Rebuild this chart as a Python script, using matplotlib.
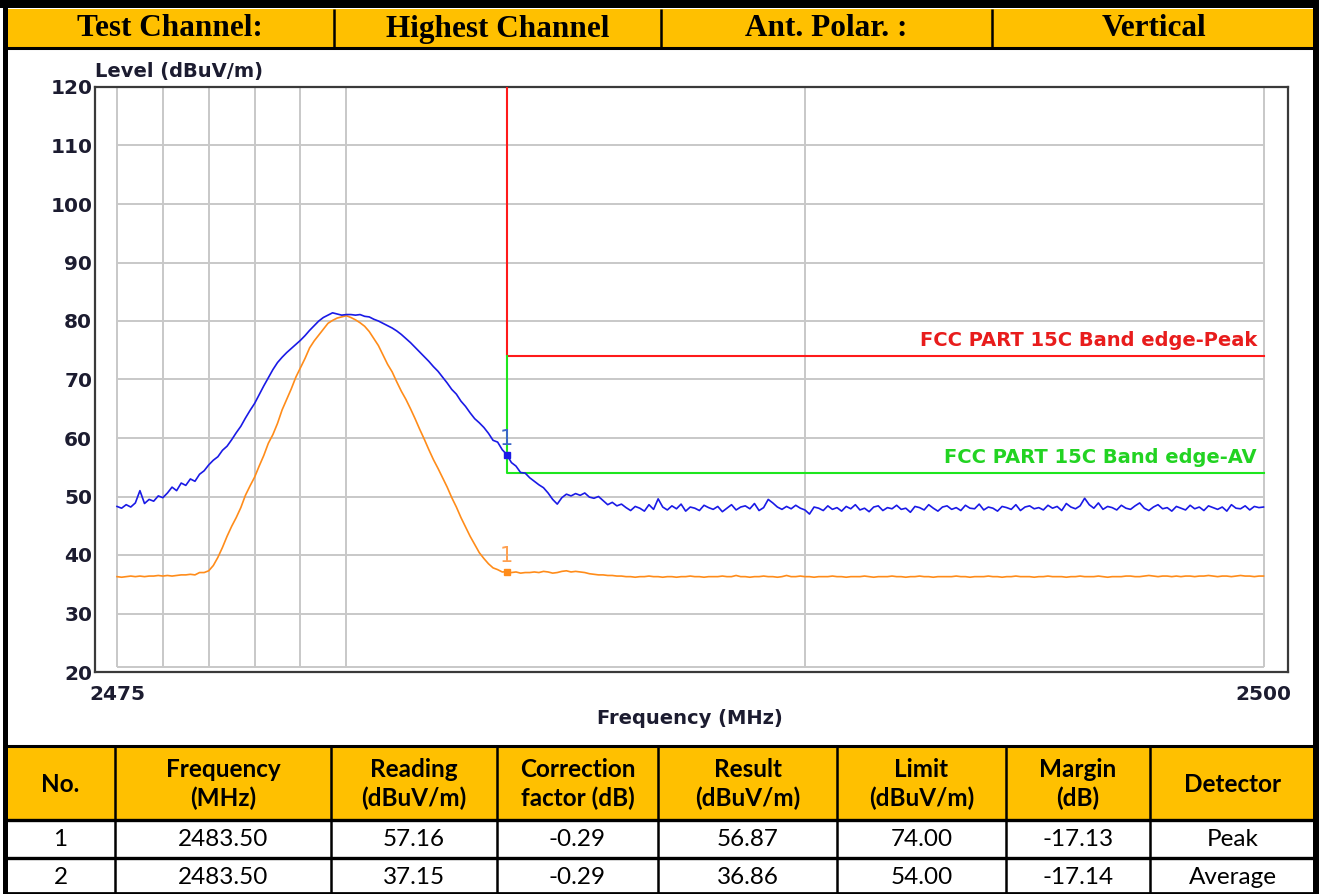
import numpy as np
import matplotlib
matplotlib.use("Agg")
import matplotlib.pyplot as plt
from matplotlib.patches import Rectangle
from matplotlib.lines import Line2D

# ---------------- data ----------------
freq_start, freq_stop, n_points = 2475.0, 2500.0, 251
freq = np.linspace(freq_start, freq_stop, n_points)

peak_level = [
    48.3, 48.0, 48.6, 48.2, 48.9, 51.0, 48.8, 49.5, 49.2, 50.1, 49.8,
    50.6, 51.6, 51.0, 52.3, 51.9, 53.0, 52.6, 53.8, 54.4, 55.4,
    56.2, 56.8, 57.9, 58.6, 59.7, 60.9, 62.0, 63.4, 64.7, 65.9,
    67.4, 68.9, 70.3, 71.7, 72.9, 73.8, 74.6, 75.3, 76.0, 76.7,
    77.5, 78.4, 79.2, 80.0, 80.6, 81.0, 81.4, 81.2, 81.0, 81.1,
    81.1, 81.0, 81.1, 80.8, 80.7, 80.3, 80.0, 79.6, 79.2, 78.8,
    78.3, 77.7, 77.0, 76.3, 75.5, 74.7, 73.9, 73.1, 72.2, 71.4,
    70.4, 69.4, 68.3, 67.5, 66.3, 65.4, 64.3, 63.3, 62.6, 61.8,
    60.8, 59.6, 59.3, 58.0, 57.16, 55.8, 55.2, 54.1, 54.0, 53.2,
    52.6, 52.0, 51.5, 50.6, 49.5, 48.7, 49.8, 50.4, 50.1, 50.5,
    50.2, 50.6, 49.9, 49.7, 50.0, 49.3, 48.6, 49.0, 48.4, 48.7,
    48.1, 47.6, 48.3, 48.0, 47.5, 48.6, 47.8, 49.6, 48.2, 47.7,
    48.4, 47.9, 48.7, 47.5, 48.2, 48.0, 47.6, 48.5, 48.1, 47.8,
    48.3, 47.4, 48.0, 48.6, 47.7, 48.2, 48.4, 47.9, 48.8, 47.6,
    48.1, 49.5, 48.9, 48.2, 47.8, 48.3, 47.9, 48.5, 48.0, 47.7,
    47.0, 48.2, 48.0, 47.6, 48.4, 47.8, 48.1, 47.5, 48.3, 47.9,
    48.6, 47.7, 48.0, 47.4, 48.2, 48.4, 47.6, 48.1, 47.9, 48.5,
    47.8, 48.0, 47.3, 48.3, 48.1, 47.7, 48.6, 48.0, 47.5, 48.2,
    48.4, 47.8, 48.1, 47.6, 48.5, 48.0, 47.9, 48.7, 47.7, 48.2,
    48.0, 47.5, 48.3, 48.1, 47.8, 48.6, 47.6, 48.2, 48.4, 47.9,
    48.1, 47.7, 48.5, 48.0, 48.3, 47.6, 48.8, 48.2, 47.9, 48.4,
    49.7, 48.6, 48.0, 48.9, 47.8, 48.3, 48.1, 47.7, 48.5, 48.0,
    47.8, 48.4, 48.9, 48.0, 47.6, 48.2, 48.6, 47.9, 48.1, 47.5,
    48.3, 48.0, 47.7, 48.5, 47.9, 48.2, 47.6, 48.4, 48.1, 47.8,
    48.2, 47.5, 48.6, 48.0, 47.9, 48.4, 47.7, 48.3, 48.1, 48.2,
]

avg_level = [
    36.3, 36.2, 36.3, 36.4, 36.3, 36.4, 36.3, 36.4, 36.4, 36.5, 36.4,
    36.5, 36.4, 36.5, 36.6, 36.6, 36.7, 36.6, 37.0, 37.0, 37.3,
    38.2, 39.6, 41.3, 43.2, 44.9, 46.4, 48.1, 50.2, 51.8, 53.3,
    55.2, 57.0, 59.1, 60.6, 62.5, 64.8, 66.6, 68.4, 70.4, 72.0,
    73.6, 75.4, 76.6, 77.6, 78.6, 79.6, 80.1, 80.5, 80.7, 80.9,
    80.6, 80.2, 79.7, 79.1, 78.2, 77.0, 75.8, 74.2, 72.6, 71.3,
    69.6, 68.0, 66.6, 65.0, 63.3, 61.5, 59.8, 58.0, 56.3, 54.8,
    53.2, 51.6, 49.8, 48.2, 46.4, 44.8, 43.2, 41.8, 40.4, 39.4,
    38.5, 37.8, 37.5, 37.1, 37.15, 37.0, 37.1, 36.9, 37.0, 37.0,
    37.1, 37.0, 37.2, 37.1, 36.9, 37.0, 37.2, 37.3, 37.1, 37.2,
    37.1, 37.0, 36.8, 36.7, 36.6, 36.6, 36.5, 36.5, 36.4, 36.4,
    36.3, 36.3, 36.2, 36.3, 36.3, 36.4, 36.3, 36.3, 36.2, 36.3,
    36.3, 36.2, 36.3, 36.3, 36.4, 36.3, 36.3, 36.2, 36.3, 36.3,
    36.3, 36.4, 36.3, 36.3, 36.5, 36.3, 36.3, 36.2, 36.3, 36.3,
    36.4, 36.3, 36.3, 36.2, 36.3, 36.5, 36.3, 36.3, 36.4, 36.3,
    36.3, 36.2, 36.3, 36.3, 36.3, 36.4, 36.3, 36.3, 36.2, 36.3,
    36.3, 36.3, 36.4, 36.3, 36.2, 36.3, 36.3, 36.3, 36.4, 36.3,
    36.3, 36.2, 36.3, 36.3, 36.4, 36.3, 36.3, 36.2, 36.3, 36.3,
    36.3, 36.3, 36.4, 36.3, 36.3, 36.2, 36.3, 36.3, 36.3, 36.4,
    36.3, 36.3, 36.2, 36.3, 36.3, 36.4, 36.3, 36.3, 36.3, 36.2,
    36.3, 36.3, 36.4, 36.3, 36.3, 36.3, 36.2, 36.3, 36.3, 36.4,
    36.3, 36.3, 36.3, 36.4, 36.3, 36.2, 36.3, 36.3, 36.3, 36.4,
    36.4, 36.3, 36.3, 36.4, 36.5, 36.4, 36.3, 36.4, 36.4, 36.3,
    36.4, 36.3, 36.4, 36.4, 36.3, 36.4, 36.4, 36.5, 36.4, 36.3,
    36.4, 36.4, 36.3, 36.4, 36.5, 36.4, 36.4, 36.3, 36.4, 36.4,
]

band_edge = 2483.5
limit_peak = 74.0
limit_avg = 54.0
marker_freq = [2483.5, 2483.5]
marker_level = [57.16, 37.15]

grid_x = [2475, 2476, 2477, 2478, 2479, 2480, 2490, 2500]
grid_y = [30, 40, 50, 60, 70, 80, 90, 100, 110]
y_ticks = [20, 30, 40, 50, 60, 70, 80, 90, 100, 110, 120]
x_ticks = [2475, 2500]

header_labels = ["Test Channel:", "Highest Channel", "Ant. Polar. :", "Vertical"]
table_header = ["No.", "Frequency\n(MHz)", "Reading\n(dBuV/m)", "Correction\nfactor (dB)",
                "Result\n(dBuV/m)", "Limit\n(dBuV/m)", "Margin\n(dB)", "Detector"]
row_no = ["1", "2"]
row_freq = ["2483.50", "2483.50"]
row_reading = ["57.16", "37.15"]
row_corr = ["-0.29", "-0.29"]
row_result = ["56.87", "36.86"]
row_limit = ["74.00", "54.00"]
row_margin = ["-17.13", "-17.14"]
row_detector = ["Peak", "Average"]

# ---------------- figure ----------------
W, H = 1319, 894
fig = plt.figure(figsize=(W / 100, H / 100), dpi=100)
fig.patch.set_facecolor("white")


def fx(x):
    return x / W


def fy(y):
    return 1 - y / H


def rect(x0, y0, x1, y1, color, z=0):
    fig.add_artist(Rectangle((fx(x0), fy(y1)), fx(x1) - fx(x0), fy(y0) - fy(y1),
                             transform=fig.transFigure, facecolor=color,
                             edgecolor="none", zorder=z))


def line(x0, y0, x1, y1, lw=2.0, color="black", z=5):
    fig.add_artist(Line2D([fx(x0), fx(x1)], [fy(y0), fy(y1)], transform=fig.transFigure,
                          color=color, lw=lw, zorder=z, solid_capstyle="butt"))


ORANGE = "#FFC000"

# top header row
hcols = [6, 334, 661, 992, 1315]
rect(6, 9, 1315, 47, ORANGE)
for i, lab in enumerate(header_labels):
    fig.text(fx((hcols[i] + hcols[i + 1]) / 2), fy(29), lab, ha="center", va="center",
             fontsize=22.5, fontweight="bold", family="Liberation Serif", color="black")
for x in hcols[1:-1]:
    line(x, 9, x, 47, lw=1.8)
line(6, 48, 1315, 48, lw=2.2)

# bottom table
tcols = [6, 115, 331, 497, 658, 837, 1006, 1150, 1315]
rect(6, 746, 1315, 819, ORANGE)
line(6, 745.5, 1315, 745.5, lw=2.2)
line(6, 819.5, 1315, 819.5, lw=2.4)
line(6, 857.5, 1315, 857.5, lw=2.4)
line(6, 893, 1315, 893, lw=2.0)
for x in tcols[1:-1]:
    line(x, 745, x, 894, lw=1.8)

cols_data = [row_no, row_freq, row_reading, row_corr, row_result, row_limit, row_margin, row_detector]
for i, lab in enumerate(table_header):
    cx = (tcols[i] + tcols[i + 1]) / 2
    fig.text(fx(cx), fy(784), lab, ha="center", va="center", fontsize=17.5,
             fontweight="bold", family="Lato", color="black", linespacing=1.3)
    for r, cy in enumerate([839, 878]):
        fig.text(fx(cx), fy(cy), cols_data[i][r], ha="center", va="center",
                 fontsize=17.5, family="Lato", color="black")

# page border
rect(0, 0, W, 8, "black", z=6)
rect(3, 0, 8, H, "black", z=6)
rect(1313, 0, W, H, "black", z=6)

# ---------------- chart ----------------
ax_l, ax_r, ax_t, ax_b = 95, 1288, 87, 672
px_x0, px_x1 = 117, 1263.5
mhz_per_px = (freq_stop - freq_start) / (px_x1 - px_x0)
ax = fig.add_axes([fx(ax_l), fy(ax_b), fx(ax_r) - fx(ax_l), fy(ax_t) - fy(ax_b)])
ax.set_xlim(freq_start - (px_x0 - ax_l) * mhz_per_px, freq_stop + (ax_r - px_x1) * mhz_per_px)
ax.set_ylim(20, 120)

GRID = "#c8c8c8"
ax.vlines(grid_x, 20.85, 120, colors=GRID, lw=1.4, zorder=1)
ax.hlines(grid_y, freq_start, freq_stop, colors=GRID, lw=1.4, zorder=1)
ax.hlines([20.85], freq_start, freq_stop, colors=GRID, lw=1.4, zorder=1)

# limit lines
ax.plot([band_edge, band_edge, freq_stop], [120, limit_peak, limit_peak], color="#ff1a1a", lw=1.5, zorder=3)
ax.plot([band_edge, band_edge, freq_stop], [limit_peak, limit_avg, limit_avg], color="#1ee61e", lw=1.5, zorder=3)

# traces
ax.plot(freq, avg_level, color="#ff8c1a", lw=1.2, zorder=4)
ax.plot(freq, peak_level, color="#1a1ae6", lw=1.2, zorder=5)

# markers
ax.plot(marker_freq[0], marker_level[0], marker="s", ms=5, color="#1a1ae6", zorder=6)
ax.plot(marker_freq[1], marker_level[1], marker="s", ms=5, color="#ff8c1a", zorder=6)
ax.text(marker_freq[0], marker_level[0] + 2.6, "1", color="#3a66c8", fontsize=15,
        family="DejaVu Sans", ha="center", va="center", zorder=7)
ax.text(marker_freq[1], marker_level[1] + 2.7, "1", color="#ffa050", fontsize=15,
        family="DejaVu Sans", ha="center", va="center", zorder=7)

# limit labels
ax.text(freq_stop - 0.14, limit_peak + 2.75, "FCC PART 15C Band edge-Peak", color="#e81c1c",
        fontsize=14, fontweight="bold", family="DejaVu Sans", ha="right", va="center")
ax.text(freq_stop - 0.14, limit_avg + 2.75, "FCC PART 15C Band edge-AV", color="#22d322",
        fontsize=14, fontweight="bold", family="DejaVu Sans", ha="right", va="center")

# ticks
TXT = "#1c1c30"
ax.set_yticks(y_ticks)
ax.set_yticklabels([str(v) for v in y_ticks])
ax.set_xticks(x_ticks)
ax.set_xticklabels([str(v) for v in x_ticks])
ax.tick_params(axis="both", length=0, labelsize=14.5, labelcolor=TXT)
ax.tick_params(axis="y", pad=2)
ax.tick_params(axis="x", pad=9)
for lab in ax.get_xticklabels() + ax.get_yticklabels():
    lab.set_fontweight("bold")
    lab.set_family("DejaVu Sans")
for sp in ax.spines.values():
    sp.set_color("#3a3a3a")
    sp.set_linewidth(1.6)

fig.text(fx(95), fy(71), "Level (dBuV/m)", ha="left", va="center", fontsize=14,
         fontweight="bold", family="DejaVu Sans", color=TXT)
fig.text(fx(690), fy(718), "Frequency (MHz)", ha="center", va="center", fontsize=14,
         fontweight="bold", family="DejaVu Sans", color=TXT)

fig.savefig("out.png", dpi=100)
